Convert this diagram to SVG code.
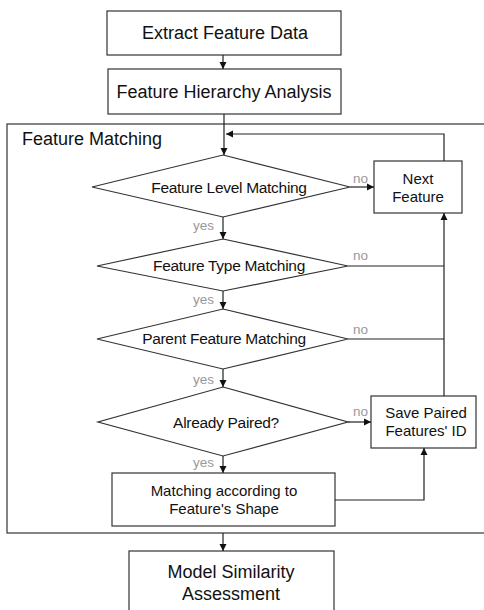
<svg xmlns="http://www.w3.org/2000/svg" width="484" height="610" viewBox="0 0 484 610">
<defs>
<marker id="ah" markerWidth="8" markerHeight="8" refX="7" refY="4" orient="auto" markerUnits="userSpaceOnUse">
<path d="M0,0.5 L7,4 L0,7.5 Z" fill="#111"/>
</marker>
<style>
.box{fill:#fff;stroke:#333;stroke-width:1.2}
.dia{fill:#fff;stroke:#333;stroke-width:1.2}
.ln{fill:none;stroke:#222;stroke-width:1.2}
.t18{font-family:"Liberation Sans",Arial,sans-serif;font-size:18px;fill:#111;text-anchor:middle}
.t15{font-family:"Liberation Sans",Arial,sans-serif;font-size:15px;fill:#111;text-anchor:middle}
.td{font-family:"Liberation Sans",Arial,sans-serif;font-size:15.5px;fill:#111;text-anchor:middle;letter-spacing:-0.3px}
.lbl{font-family:"Liberation Sans",Arial,sans-serif;font-size:13.5px;fill:#999}
</style>
</defs>
<rect width="484" height="610" fill="#fff"/>

<g id="container">
<rect x="7" y="124" width="490" height="409" fill="none" stroke="#333" stroke-width="1.2"/>
<text x="22" y="145" font-family="Liberation Sans, Arial, sans-serif" font-size="18" fill="#111">Feature Matching</text>
</g>

<g id="n1"><rect class="box" x="107" y="11" width="234" height="44"/><text class="t18" x="225" y="39">Extract Feature Data</text></g>
<g id="n2"><rect class="box" x="108" y="69" width="233" height="45"/><text class="t18" x="224" y="98">Feature Hierarchy Analysis</text></g>
<g id="d1"><polygon class="dia" points="223,155 350,187 223,217 92,187"/><text class="td" x="229" y="193">Feature Level Matching</text></g>
<g id="next"><rect class="box" x="374" y="161" width="88" height="52"/><text class="t15" x="418" y="184">Next</text><text class="t15" x="418" y="202">Feature</text></g>
<g id="d2"><polygon class="dia" points="223,239 348,266 223,291 97,266"/><text class="td" x="229" y="271">Feature Type Matching</text></g>
<g id="d3"><polygon class="dia" points="223,309 348,339 223,369 97,339"/><text class="td" x="224" y="344">Parent Feature Matching</text></g>
<g id="d4"><polygon class="dia" points="223,387 348,422 223,456 98,422"/><text class="td" x="226" y="428">Already Paired?</text></g>
<g id="save"><rect class="box" x="371" y="396" width="105" height="52"/><text class="t15" x="426" y="418">Save Paired</text><text class="t15" x="426" y="436">Features' ID</text></g>
<g id="shape"><rect class="box" x="112" y="473" width="223" height="53"/><text class="t15" x="224" y="496">Matching according to</text><text class="t15" x="224" y="514">Feature's Shape</text></g>
<g id="model"><rect class="box" x="129" y="551" width="205" height="80"/><text class="t18" x="231" y="578">Model Similarity</text><text class="t18" x="231" y="600">Assessment</text></g>

<g id="connectors">
<line class="ln" x1="223" y1="55" x2="223" y2="69" marker-end="url(#ah)"/>
<line class="ln" x1="224" y1="114" x2="224" y2="155" marker-end="url(#ah)"/>
<polyline class="ln" points="444,161 444,134 226,134" marker-end="url(#ah)"/>
<line class="ln" x1="350" y1="187" x2="374" y2="187" marker-end="url(#ah)"/>
<line class="ln" x1="223" y1="217" x2="223" y2="239" marker-end="url(#ah)"/>
<line class="ln" x1="348" y1="266" x2="444" y2="266"/>
<line class="ln" x1="223" y1="291" x2="223" y2="309" marker-end="url(#ah)"/>
<line class="ln" x1="348" y1="339" x2="444" y2="339"/>
<line class="ln" x1="223" y1="369" x2="223" y2="387" marker-end="url(#ah)"/>
<line class="ln" x1="348" y1="422" x2="371" y2="422" marker-end="url(#ah)"/>
<line class="ln" x1="444" y1="396" x2="444" y2="213" marker-end="url(#ah)"/>
<line class="ln" x1="223" y1="456" x2="223" y2="473" marker-end="url(#ah)"/>
<polyline class="ln" points="335,500 424,500 424,448" marker-end="url(#ah)"/>
<line class="ln" x1="223" y1="533" x2="223" y2="551" marker-end="url(#ah)"/>
<text class="lbl" x="353" y="183">no</text>
<text class="lbl" x="353" y="260">no</text>
<text class="lbl" x="353" y="334">no</text>
<text class="lbl" x="353" y="416">no</text>
<text class="lbl" x="193" y="230">yes</text>
<text class="lbl" x="193" y="304">yes</text>
<text class="lbl" x="193" y="384">yes</text>
<text class="lbl" x="193" y="467">yes</text>
</g>
</svg>
